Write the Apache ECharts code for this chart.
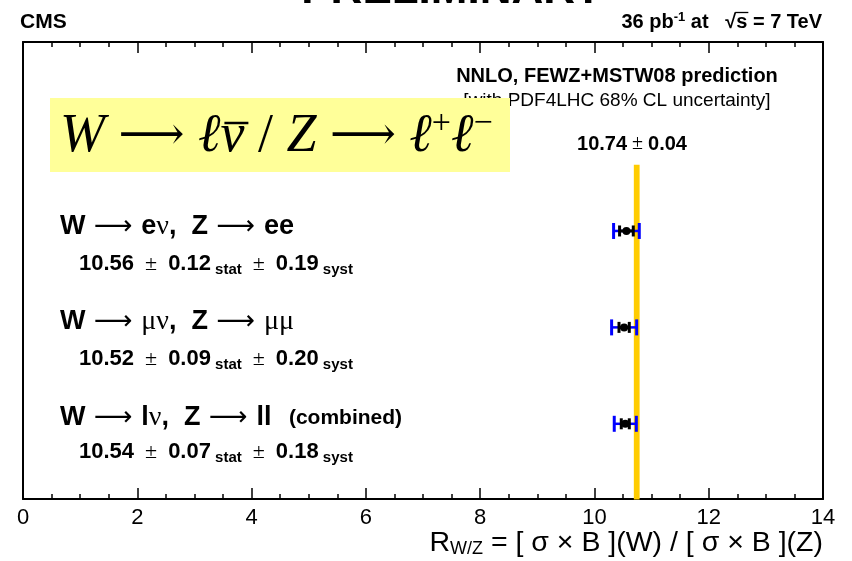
<!DOCTYPE html>
<html>
<head>
<meta charset="utf-8">
<script src="https://cdn.jsdelivr.net/npm/echarts@6/dist/echarts.min.js"></script>
<style>
  html, body { margin: 0; padding: 0; background: #fff; }
  #chart { width: 852px; height: 561px; }
</style>
</head>
<body>
<div id="chart"></div>
<script>
// W/Z cross-section ratio measurements per channel
const wLeptons   = ['e', 'μ', 'l'];
const zPairs     = ['ee', 'μμ', 'll'];
const ratioValues = [10.56, 10.52, 10.54];
const statErrors  = [0.12, 0.09, 0.07];
const systErrors  = [0.19, 0.20, 0.18];
const rowPositions = [2.78, 1.78, 0.78];

// theory prediction (NNLO, FEWZ + MSTW08)
const theoryValue = 10.74;
const theoryError = 0.04;
const theoryBandTop = 3.46;

const xMin = 0, xMax = 14, xStep = 2;

const SANS = "'Liberation Sans', Arial, Helvetica, sans-serif";
const SERIF = "'Liberation Serif', 'DejaVu Serif', 'Times New Roman', serif";
const ARROW = "'DejaVu Sans', sans-serif";

const chart = echarts.init(document.getElementById('chart'), null, { renderer: 'canvas' });

const fmt = v => v.toFixed(2);

// text measuring for placing overlines next to rich text
const mctx = document.createElement('canvas').getContext('2d');
function textWidth(str, font) { mctx.font = font; return mctx.measureText(str).width; }

// builds a rich string from [styleName, text] tokens and reports each token's x offset
function buildRich(tokens, rich) {
  let str = '', x = 0;
  const offsets = [];
  for (const [s, t] of tokens) {
    offsets.push({ x, w: textWidth(t, rich[s].font) });
    x += offsets[offsets.length - 1].w;
    str += '{' + s + '|' + t + '}';
  }
  return { str, offsets, width: x };
}

const measData = ratioValues.map((v, i) => [v, rowPositions[i], statErrors[i], systErrors[i]]);

const axisCommon = {
  type: 'value', min: xMin, max: xMax, interval: xStep,
  axisLine: { show: true, onZero: false, lineStyle: { color: '#000', width: 2 } },
  axisTick: { show: true, inside: true, length: 11, lineStyle: { color: '#000', width: 1.5 } },
  minorTick: { show: true, splitNumber: 4, length: 5, lineStyle: { color: '#000', width: 1.5 } },
  splitLine: { show: false }
};

const graphics = [];

// partly clipped banner at the very top
graphics.push({ type: 'text', x: 452, y: -31, z: 10,
  style: { text: 'PRELIMINARY', font: "bold 44px " + SANS, fill: '#000', align: 'center', verticalAlign: 'top' } });

graphics.push({ type: 'text', x: 20, y: 22, z: 10,
  style: { text: 'CMS', font: "bold 21px " + SANS, fill: '#000', verticalAlign: 'middle' } });

// luminosity and energy
{
  const rich = {
    a: { font: "bold 20px " + SANS, fill: '#000', lineHeight: 22 },
    sup: { font: "bold 13px " + SANS, fill: '#000', verticalAlign: 'top', lineHeight: 22 }
  };
  const r = buildRich([['a', '36 pb'], ['sup', '-1'], ['a', ' at   √'], ['a', 's'], ['a', ' = 7 TeV']], rich);
  const x0 = 822 - r.width;
  graphics.push({ type: 'text', x: x0, y: 22, z: 10,
    style: { text: r.str, verticalAlign: 'middle', rich } });
  const o = r.offsets[3];
  graphics.push({ type: 'line', z: 10,
    shape: { x1: x0 + o.x - 1, y1: 12.5, x2: x0 + o.x + o.w + 1, y2: 12.5 },
    style: { stroke: '#000', lineWidth: 1.3 } });
}

// theory caption
graphics.push({ type: 'text', x: 617, y: 76, z: 10,
  style: { text: 'NNLO, FEWZ+MSTW08 prediction', font: "bold 20px " + SANS, fill: '#000', align: 'center', verticalAlign: 'middle' } });
graphics.push({ type: 'text', x: 617, y: 101, z: 10,
  style: { text: '[with PDF4LHC 68% CL uncertainty]', font: "19px " + SANS, fill: '#000', align: 'center', verticalAlign: 'middle' } });
{
  const rich = {
    n: { font: "bold 20px " + SANS, fill: '#000', lineHeight: 24 },
    p: { font: "20px " + SERIF, fill: '#000', lineHeight: 24 }
  };
  const r = buildRich([['n', fmt(theoryValue)], ['p', ' ± '], ['n', fmt(theoryError)]], rich);
  graphics.push({ type: 'text', x: 632, y: 144, z: 10,
    style: { text: r.str, align: 'center', verticalAlign: 'middle', rich } });
}

// process box
graphics.push({ type: 'rect', shape: { x: 50, y: 98, width: 460, height: 74 }, z: 20,
  style: { fill: '#ffff99' } });
{
  const rich = {
    i: { font: "italic 54px " + SERIF, fill: '#000', lineHeight: 60 },
    r: { font: "54px " + SERIF, fill: '#000', lineHeight: 60 },
    a: { font: "46px " + SERIF, fill: '#000', lineHeight: 60 },
    s: { font: "34px " + SERIF, fill: '#000', lineHeight: 60, verticalAlign: 'top' }
  };
  const r = buildRich([
    ['i', 'W'], ['r', ' '], ['a', '⟶'], ['r', ' '], ['i', 'ℓ'], ['i', 'ν'], ['r', ' / '], ['i', 'Z'],
    ['r', ' '], ['a', '⟶'], ['r', ' '], ['i', 'ℓ'], ['s', '+'], ['i', 'ℓ'], ['s', '−']
  ], rich);
  const x0 = 60;
  graphics.push({ type: 'text', x: x0, y: 137, z: 21,
    style: { text: r.str, verticalAlign: 'middle', rich } });
  const o = r.offsets[5];
  graphics.push({ type: 'line', z: 21,
    shape: { x1: x0 + o.x + 4, y1: 123, x2: x0 + o.x + o.w + 4, y2: 123 },
    style: { stroke: '#000', lineWidth: 2.5 } });
}

// channel labels
const firstLineY = [227, 322, 418];
const secondLineY = [264, 359, 452];
const headRich = {
  b: { font: "bold 27px " + SANS, fill: '#000', lineHeight: 32 },
  g: { font: "28px " + SERIF, fill: '#000', lineHeight: 32 },
  a: { font: "27px " + ARROW, fill: '#000', lineHeight: 32 },
  c: { font: "bold 21px " + SANS, fill: '#000', lineHeight: 32 }
};
const valRich = {
  n: { font: "bold 22px " + SANS, fill: '#000', lineHeight: 26 },
  p: { font: "22px " + SERIF, fill: '#000', lineHeight: 26 },
  sub: { font: "bold 15px " + SANS, fill: '#000', lineHeight: 26, verticalAlign: 'bottom', padding: [12, 0, 0, 0] }
};
const greek = /[μν]/;
for (let i = 0; i < ratioValues.length; i++) {
  const tok = [['b', 'W'], ['a', ' ⟶ ']];
  for (const ch of wLeptons[i]) tok.push([greek.test(ch) ? 'g' : 'b', ch]);
  tok.push(['g', 'ν'], ['b', ',  Z'], ['a', ' ⟶ ']);
  for (const ch of zPairs[i]) tok.push([greek.test(ch) ? 'g' : 'b', ch]);
  if (i === ratioValues.length - 1) tok.push(['c', '   (combined)']);
  const head = buildRich(tok, headRich);
  graphics.push({ type: 'text', x: 60, y: firstLineY[i], z: 10,
    style: { text: head.str, verticalAlign: 'middle', rich: headRich } });

  const vals = buildRich([
    ['n', fmt(ratioValues[i])], ['p', '  ±  '], ['n', fmt(statErrors[i])], ['sub', ' stat'],
    ['p', '  ±  '], ['n', fmt(systErrors[i])], ['sub', ' syst']
  ], valRich);
  graphics.push({ type: 'text', x: 79, y: secondLineY[i], z: 10,
    style: { text: vals.str, verticalAlign: 'middle', rich: valRich } });
}

// x-axis title
graphics.push({ type: 'text', x: 823, y: 543, z: 10,
  style: {
    text: '{t|R}{sub|W/Z}{t| = [ σ × B ](W) / [ σ × B ](Z)}',
    align: 'right', verticalAlign: 'middle',
    rich: {
      t: { font: "28.5px " + SANS, fill: '#000', lineHeight: 30 },
      sub: { font: "18px " + SANS, fill: '#000', lineHeight: 30, verticalAlign: 'bottom', padding: [12, 0, 0, 0] }
    }
  } });

const option = {
  backgroundColor: '#fff',
  animation: false,
  grid: { left: 23, right: 29, top: 42, bottom: 62, containLabel: false },
  xAxis: [
    Object.assign({}, axisCommon, {
      position: 'bottom',
      axisLabel: { show: true, color: '#000', fontSize: 22, fontFamily: SANS, margin: 8 }
    }),
    Object.assign({}, axisCommon, { position: 'top', axisLabel: { show: false } })
  ],
  yAxis: [
    { type: 'value', min: 0, max: 4.74, position: 'left',
      axisLine: { show: true, onZero: false, lineStyle: { color: '#000', width: 2 } },
      axisTick: { show: false }, axisLabel: { show: false }, splitLine: { show: false } },
    { type: 'value', min: 0, max: 4.74, position: 'right',
      axisLine: { show: true, onZero: false, lineStyle: { color: '#000', width: 2 } },
      axisTick: { show: false }, axisLabel: { show: false }, splitLine: { show: false } }
  ],
  series: [
    {
      // theory band
      type: 'custom', xAxisIndex: 0, yAxisIndex: 0, z: 2, silent: true,
      data: [[theoryValue, theoryError]],
      renderItem(params, api) {
        const v = api.value(0), e = api.value(1);
        const p0 = api.coord([v - e, theoryBandTop]);
        const p1 = api.coord([v + e, 0]);
        return { type: 'rect',
          shape: { x: p0[0], y: p0[1], width: p1[0] - p0[0], height: p1[1] - p0[1] },
          style: { fill: '#ffcc00', stroke: '#ffcc00', lineWidth: 1.2 } };
      }
    },
    {
      // measurements: total (blue) and statistical (black) uncertainties
      type: 'custom', xAxisIndex: 0, yAxisIndex: 0, z: 5, silent: true,
      data: measData,
      renderItem(params, api) {
        const v = api.value(0), y = api.value(1), st = api.value(2), sy = api.value(3);
        const tot = Math.sqrt(st * st + sy * sy);
        const c = api.coord([v, y]);
        const xl = api.coord([v - tot, y])[0], xr = api.coord([v + tot, y])[0];
        const sl = api.coord([v - st, y])[0], sr = api.coord([v + st, y])[0];
        const blue = '#0000ff';
        return { type: 'group', children: [
          { type: 'line', shape: { x1: xl, y1: c[1], x2: xr, y2: c[1] }, style: { stroke: blue, lineWidth: 2.5 } },
          { type: 'rect', shape: { x: xl - 1.5, y: c[1] - 8, width: 3, height: 16 }, style: { fill: blue } },
          { type: 'rect', shape: { x: xr - 1.5, y: c[1] - 8, width: 3, height: 16 }, style: { fill: blue } },
          { type: 'line', shape: { x1: sl, y1: c[1], x2: sr, y2: c[1] }, style: { stroke: '#000', lineWidth: 3 } },
          { type: 'rect', shape: { x: sl - 1.5, y: c[1] - 5.5, width: 3, height: 11 }, style: { fill: '#000' } },
          { type: 'rect', shape: { x: sr - 1.5, y: c[1] - 5.5, width: 3, height: 11 }, style: { fill: '#000' } },
          { type: 'circle', shape: { cx: c[0], cy: c[1], r: 4 }, style: { fill: '#000' } }
        ] };
      }
    }
  ],
  graphic: graphics
};

chart.setOption(option);
</script>
</body>
</html>
